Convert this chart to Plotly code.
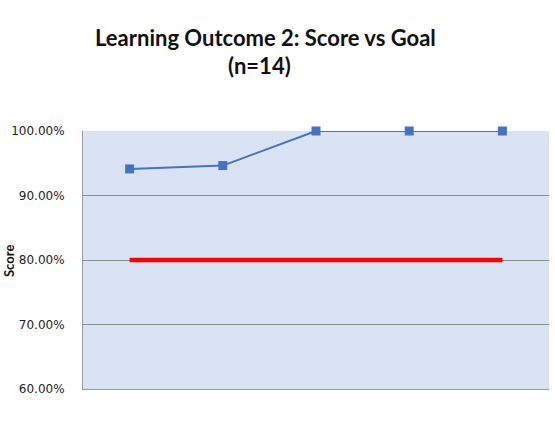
import plotly.graph_objects as go

categories = ["1", "2", "3", "4", "5"]
score = [0.9412, 0.9464, 1.0, 1.0, 1.0]
goal = [0.80, 0.80, 0.80, 0.80, 0.80]
y_ticks = [0.6, 0.7, 0.8, 0.9, 1.0]
y_labels = ["60.00%", "70.00%", "80.00%", "90.00%", "100.00%"]

W, H = 555, 444
L, R, T, B = 83, 6, 131, 55
pw, ph = W - L - R, H - T - B

def px(xp):
    return (xp - L) / pw

def py(yp):
    return (H - B - yp) / ph

fig = go.Figure()
fig.add_trace(go.Scatter(x=categories, y=goal, mode="lines",
                         line=dict(color="#FF0000", width=4.5), name="Goal",
                         cliponaxis=False, hoverinfo="skip"))
fig.add_trace(go.Scatter(x=categories, y=score, mode="lines+markers",
                         line=dict(color="#4472C4", width=2),
                         marker=dict(symbol="square", size=9, color="#4472C4"),
                         name="Score", cliponaxis=False, hoverinfo="skip"))

fig.update_layout(
    width=W, height=H,
    margin=dict(l=L, r=R, t=T, b=B, autoexpand=False),
    paper_bgcolor="white",
    plot_bgcolor="#DAE3F3",
    showlegend=False,
    font=dict(family="DejaVu Sans", size=12, color="#222222"),
    xaxis=dict(type="category", range=[-0.5, 4.5], showticklabels=False,
               showgrid=False, showline=True, linecolor="#9A9A9A", linewidth=1,
               zeroline=False, automargin=False),
    yaxis=dict(range=[0.6, 1.0], tickvals=y_ticks, ticktext=y_labels,
               showgrid=True, gridcolor="#8C8C8C", gridwidth=1,
               showline=True, linecolor="#9A9A9A", linewidth=1,
               zeroline=False, ticks="", ticklabelstandoff=15,
               automargin=False,
               tickfont=dict(family="DejaVu Sans", size=12, color="#222222")),
    annotations=[
        dict(text="<b>Learning Outcome 2: Score vs Goal</b>", x=px(265), y=py(37),
             xref="paper", yref="paper", xanchor="center", yanchor="middle",
             showarrow=False, font=dict(family="Lato", size=22, color="#111111")),
        dict(text="<b>(n=14)</b>", x=px(259), y=py(65),
             xref="paper", yref="paper", xanchor="center", yanchor="middle",
             showarrow=False, font=dict(family="Lato", size=22, color="#111111")),
        dict(text="<b>Score</b>", x=px(9), y=py(261), textangle=-90,
             xref="paper", yref="paper", xanchor="center", yanchor="middle",
             borderpad=0, showarrow=False,
             font=dict(family="Lato", size=13, color="#111111")),
    ],
)

fig.write_html("out.html", config={"displayModeBar": False},
               post_script="document.body.style.margin='0';")
